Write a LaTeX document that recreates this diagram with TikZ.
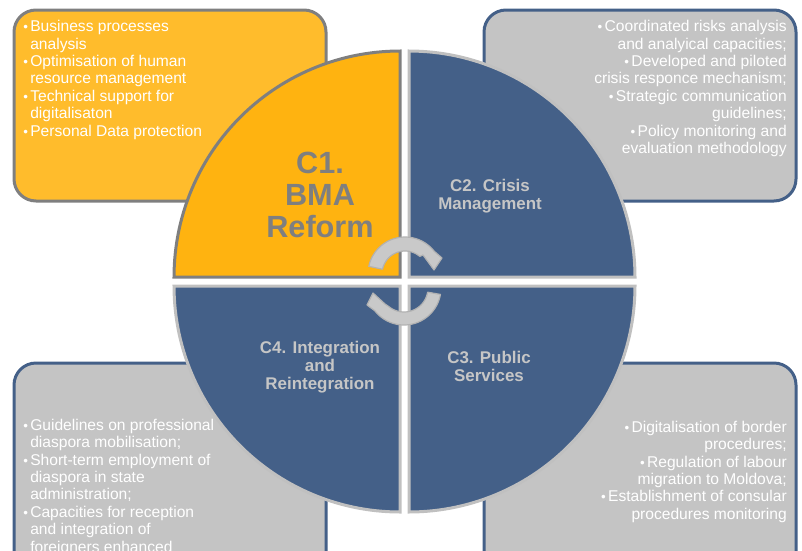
\documentclass[tikz,border=0pt]{standalone}
\usepackage{fontspec}
\setmainfont{Liberation Sans}
\definecolor{amberq}{HTML}{FFB310}
\definecolor{amberb}{HTML}{FFBC2C}
\definecolor{slateq}{HTML}{446088}
\definecolor{greyb}{HTML}{C4C4C4}
\definecolor{edgeg}{HTML}{7F7F7F}
\definecolor{edgel}{HTML}{C0C0C0}
\definecolor{arrowf}{HTML}{C9C9C9}
\definecolor{arrowe}{HTML}{B2B2B2}
\definecolor{labg}{HTML}{C6C6C6}
\newcommand{\bul}{\makebox[5.25pt][l]{\fontsize{10}{13}\selectfont •}}
\newcommand{\lbul}{\llap{\bul}}
\tikzset{
  x=0.75pt,y=-0.75pt,
  panel/.style={line width=2.25pt,rounded corners=16.5pt},
  quarter/.style={line width=2.25pt,line join=miter},
  panelleft/.style={text=white,inner sep=0pt,anchor=north west,align=left,font=\fontsize{11.7}{13.1}\selectfont},
  panelright/.style={text=white,inner sep=0pt,anchor=north east,align=right,font=\fontsize{11.7}{13.1}\selectfont},
  smalllabel/.style={text=labg,inner sep=0pt,align=center,font=\fontsize{12.7}{13.5}\selectfont\bfseries},
  rotarrow/.style={fill=arrowf,draw=arrowe,line width=0.9pt,line join=round},
}
\begin{document}
\begin{tikzpicture}
\useasboundingbox (0,0) rectangle (802,550);
\clip (0,0) rectangle (802,550);
% panels
\draw[panel,draw=edgeg,fill=amberb] (14,10) rectangle (326,201);
\draw[panel,draw=slateq,fill=greyb] (484,10) rectangle (796,201);
\draw[panel,draw=slateq,fill=greyb] (14,363) rectangle (326,590);
\draw[panel,draw=slateq,fill=greyb] (484,363) rectangle (796,590);
% quarters
\draw[quarter,draw=edgeg,fill=amberq] (400,277) -- plot[domain=180:270,samples=60] ({400+226*cos(\x)},{277+226*sin(\x)}) -- cycle;
\draw[quarter,draw=edgel,fill=slateq] (409,277) -- plot[domain=270:360,samples=60] ({409+226*cos(\x)},{277+226*sin(\x)}) -- cycle;
\draw[quarter,draw=edgel,fill=slateq] (409,286) -- plot[domain=0:90,samples=60] ({409+226*cos(\x)},{286+226*sin(\x)}) -- cycle;
\draw[quarter,draw=edgel,fill=slateq] (400,286) -- plot[domain=90:180,samples=60] ({400+226*cos(\x)},{286+226*sin(\x)}) -- cycle;
% rotation arrows
\draw[rotarrow] plot[domain=192:322,samples=40] ({405+37*cos(\x)},{274+37*sin(\x)})
  -- (442,258) -- (434,270) -- (423,255)
  -- plot[domain=310:192,samples=40] ({405+23*cos(\x)},{274+23*sin(\x)}) -- cycle;
\draw[rotarrow] plot[domain=10:142,samples=40] ({404+37*cos(\x)},{288+37*sin(\x)})
  -- (367,305) -- (373,293) -- (385,304)
  -- plot[domain=130:10,samples=40] ({404+24*cos(\x)},{288+24*sin(\x)}) -- cycle;
% big label
\node[text=edgeg,inner sep=0pt,align=center,font=\fontsize{23}{24.3}\selectfont\bfseries] (c1) at (320,195) {C1.\\BMA\\Reform};
\node[smalllabel] (c2) at (490,196) {C2. Crisis\\Management};
\node[smalllabel] (c3) at (489,366) {C3. Public\\Services};
\node[smalllabel] (c4) at (320,367) {C4. Integration\\and\\Reintegration};
% panel texts
\node[panelleft] (t1) at (30,20) {\lbul Business processes\\analysis\\\lbul Optimisation of human\\resource management\\\lbul Technical support for\\digitalisaton\\\lbul Personal Data protection};
\node[panelright] (t2) at (787,20) {\bul Coordinated risks analysis\\and analyical capacities;\\\bul Developed and piloted\\crisis responce mechanism;\\\bul Strategic communication\\guidelines;\\\bul Policy monitoring and\\evaluation methodology};
\node[panelleft] (t4) at (30,418.5) {\lbul Guidelines on professional\\diaspora mobilisation;\\\lbul Short-term employment of\\diaspora in state\\administration;\\\lbul Capacities for reception\\and integration of\\foreigners enhanced};
\node[panelright] (t3) at (787,420.5) {\bul Digitalisation of border\\procedures;\\\bul Regulation of labour\\migration to Moldova;\\\bul Establishment of consular\\procedures monitoring};
\end{tikzpicture}
\end{document}
